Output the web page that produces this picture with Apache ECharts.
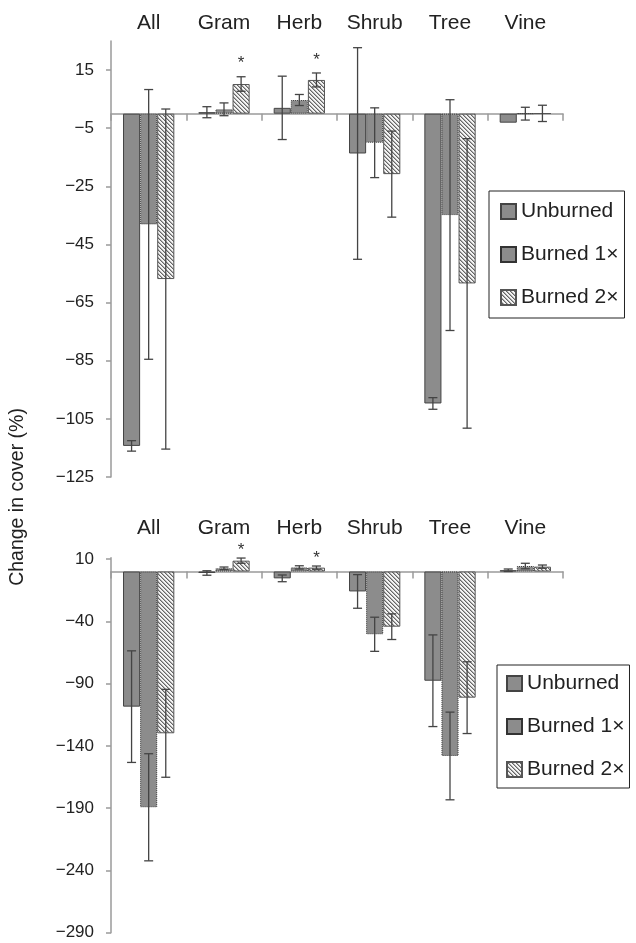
<!DOCTYPE html>
<html>
<head>
<meta charset="utf-8">
<script src="https://cdn.jsdelivr.net/npm/echarts@6/dist/echarts.min.js"></script>
<style>
  html, body { margin: 0; padding: 0; background: #fff; }
  #chart { width: 636px; height: 943px; }
</style>
</head>
<body>
<div id="chart"></div>
<script>
// Growth-form categories
const categories = ['All', 'Gram', 'Herb', 'Shrub', 'Tree', 'Vine'];
const groupNames = ['Unburned', 'Burned 1×', 'Burned 2×'];

// Upper panel: mean change in cover (%) and error half-widths
const topUnburned     = [-114.3, 0.5, 2.0, -13.7, -99.7, -3.1];
const topUnburnedErr  = [1.8, 1.9, 10.9, 36.4, 2.0, 0];
const topBurned1      = [-38.1, 1.5, 4.7, -10.0, -34.9, 0.0];
const topBurned1Err   = [46.4, 2.2, 1.9, 12.0, 39.7, 2.2];
const topBurned2      = [-56.9, 10.2, 11.6, -20.8, -58.4, 0.1];
const topBurned2Err   = [58.5, 2.5, 2.4, 14.8, 49.8, 2.8];
const topSignificant  = [[0,0,0,0,0,0],[0,0,0,0,0,0],[0,1,1,0,0,0]];
const topTicks        = [-125, -105, -85, -65, -45, -25, -5, 15];

// Lower panel
const botUnburned     = [-108.5, -1.2, -5.5, -16.0, -87.7, 1.0];
const botUnburnedErr  = [44.8, 1.8, 2.7, 13.5, 36.8, 1.0];
const botBurned1      = [-189.3, 2.6, 3.3, -50.4, -148.1, 4.4];
const botBurned1Err   = [43.0, 1.0, 1.3, 13.7, 35.2, 2.2];
const botBurned2      = [-129.9, 8.7, 3.1, -44.3, -101.3, 3.9];
const botBurned2Err   = [35.3, 2.1, 1.3, 10.3, 28.8, 1.3];
const botSignificant  = [[0,0,0,0,0,0],[0,0,0,0,0,0],[0,1,1,0,0,0]];
const botTicks        = [-290, -240, -190, -140, -90, -40, 10];

const BAR_FRAC = 0.227;
const AXIS_GRAY = '#9a9a9a';
const TEXT = '#222';
const FONT = 'Liberation Sans, Arial, sans-serif';

// Diagonal hatch tile for the twice-burned bars
function hatchTile() {
  const s = 4;
  const c = document.createElement('canvas');
  c.width = s; c.height = s;
  const ctx = c.getContext('2d');
  const img = ctx.createImageData(s, s);
  for (let y = 0; y < s; y++) {
    for (let x = 0; x < s; x++) {
      const k = (((x - y) % s) + s) % s;
      const v = k === 0 ? 0x66 : (k === 1 ? 0xb0 : 0xf4);
      const i = (y * s + x) * 4;
      img.data[i] = v; img.data[i + 1] = v; img.data[i + 2] = v; img.data[i + 3] = 255;
    }
  }
  ctx.putImageData(img, 0, 0);
  return c;
}
const hatch = { image: hatchTile(), repeat: 'repeat' };

const barStyles = [
  { color: '#8c8c8c', borderColor: '#444', borderWidth: 1 },
  { color: '#8c8c8c', borderColor: '#333', borderWidth: 1, borderType: 'dotted' },
  { color: hatch, borderColor: '#555', borderWidth: 1 }
];

const fmt = v => (v < 0 ? '\u2212' + Math.abs(v) : String(v));

function yAxisFor(grid, min, max, ticks) {
  return {
    type: 'value', gridIndex: grid, min: min, max: max,
    axisLine: { show: true, lineStyle: { color: AXIS_GRAY, width: 1.5 } },
    axisTick: { show: true, length: 5, lineStyle: { color: AXIS_GRAY, width: 1.5 }, customValues: ticks },
    axisLabel: { customValues: ticks, formatter: fmt, fontSize: 17, color: TEXT, fontFamily: FONT, margin: 17 },
    splitLine: { show: false }
  };
}

function mainX(grid) {
  return {
    type: 'category', gridIndex: grid, data: categories,
    axisLine: { onZero: true, lineStyle: { color: AXIS_GRAY, width: 1.5 } },
    axisTick: { show: true, length: 7, lineStyle: { color: AXIS_GRAY, width: 1.5 } },
    axisLabel: { show: false }
  };
}
function labelX(grid, margin) {
  return {
    type: 'category', gridIndex: grid, data: categories, position: 'top',
    axisLine: { show: false }, axisTick: { show: false },
    axisLabel: { fontSize: 21, color: TEXT, fontFamily: FONT, margin: margin }
  };
}

function errorSeries(xIdx, yIdx, k, vals, errs, stars, starOffset) {
  return {
    type: 'custom', xAxisIndex: xIdx, yAxisIndex: yIdx, z: 5,
    silent: true,
    encode: { x: 0, y: 1 },
    data: vals.map((v, i) => [i, v, errs[i], stars[i]]),
    renderItem: function (params, api) {
      const ci = api.value(0), v = api.value(1), e = api.value(2), st = api.value(3);
      const band = api.size([1, 0])[0];
      const dx = (k - 1) * band * BAR_FRAC;
      const hi = api.coord([ci, v + e]);
      const lo = api.coord([ci, v - e]);
      const x = hi[0] + dx;
      const cap = 4.5;
      const ls = { stroke: '#444', lineWidth: 1.3 };
      const children = [];
      if (e > 0) {
        children.push({ type: 'line', shape: { x1: x, y1: hi[1], x2: x, y2: lo[1] }, style: ls });
        children.push({ type: 'line', shape: { x1: x - cap, y1: hi[1], x2: x + cap, y2: hi[1] }, style: ls });
        children.push({ type: 'line', shape: { x1: x - cap, y1: lo[1], x2: x + cap, y2: lo[1] }, style: ls });
      }
      if (st) {
        children.push({
          type: 'text',
          style: { text: '*', x: x, y: hi[1] - starOffset, fontSize: 17, fill: '#333',
                   fontFamily: FONT, align: 'center', verticalAlign: 'middle' }
        });
      }
      return { type: 'group', children: children };
    }
  };
}

function barSeries(xIdx, yIdx, k, vals) {
  return {
    name: groupNames[k], type: 'bar', xAxisIndex: xIdx, yAxisIndex: yIdx,
    barWidth: (BAR_FRAC * 100) + '%', barGap: '0%',
    itemStyle: barStyles[k], data: vals, z: 2
  };
}

const topVals = [topUnburned, topBurned1, topBurned2];
const topErrs = [topUnburnedErr, topBurned1Err, topBurned2Err];
const botVals = [botUnburned, botBurned1, botBurned2];
const botErrs = [botUnburnedErr, botBurned1Err, botBurned2Err];

const series = [];
for (let k = 0; k < 3; k++) series.push(barSeries(0, 0, k, topVals[k]));
for (let k = 0; k < 3; k++) series.push(barSeries(2, 1, k, botVals[k]));
for (let k = 0; k < 3; k++) series.push(errorSeries(0, 0, k, topVals[k], topErrs[k], topSignificant[k], 13));
for (let k = 0; k < 3; k++) series.push(errorSeries(2, 1, k, botVals[k], botErrs[k], botSignificant[k], 8));

function legendAt(left, top, padding) {
  return {
    orient: 'vertical', left: left, top: top, padding: padding,
    borderColor: '#222', borderWidth: 1, backgroundColor: '#fff',
    itemWidth: 15, itemHeight: 15, itemGap: 22, icon: 'rect',
    textStyle: { fontSize: 21, lineHeight: 21, color: TEXT, fontFamily: FONT },
    data: groupNames, selectedMode: false
  };
}

const chart = echarts.init(document.getElementById('chart'), null, { renderer: 'canvas' });
chart.setOption({
  animation: false,
  backgroundColor: '#fff',
  textStyle: { fontFamily: FONT },
  grid: [
    { left: 111, top: 41, width: 452, height: 436 },
    { left: 111, top: 557.8, width: 452, height: 374.9 }
  ],
  xAxis: [mainX(0), labelX(0, 7), mainX(1), labelX(1, 19)],
  yAxis: [yAxisFor(0, -125, 25, topTicks), yAxisFor(1, -290, 11, botTicks)],
  legend: [legendAt(489, 191, [10, 6, 10, 11]), legendAt(497, 665, [8, 5, 8, 9])],
  graphic: [{
    type: 'text', x: 18, y: 497, rotation: Math.PI / 2,
    style: { text: 'Change in cover (%)', fontSize: 19.5, fill: TEXT, fontFamily: FONT,
             align: 'center', verticalAlign: 'middle' }
  }],
  series: series
});
</script>
</body>
</html>
